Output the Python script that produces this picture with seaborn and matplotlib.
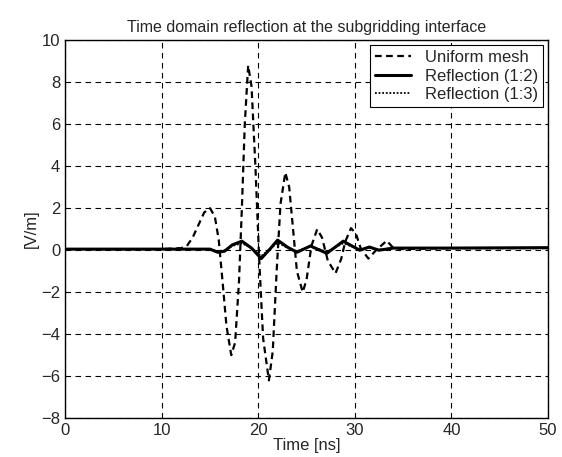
import numpy as np
import pandas as pd
import matplotlib
matplotlib.use("Agg")
import matplotlib.pyplot as plt
import seaborn as sns

sns.set_style("white")
plt.rcParams["font.family"] = ["Liberation Sans", "DejaVu Sans"]

# values
t_uniform = [0, 10, 12, 12.6, 13.2, 13.8, 14.4, 15.0, 15.5, 15.9, 16.3, 16.7, 17.2, 17.6,
             18.0, 18.3, 18.6, 18.95, 19.3, 19.7, 20.1, 20.5, 21.1, 21.5, 21.9, 22.3,
             22.8, 23.2, 23.6, 24.0, 24.6, 25.0, 25.5, 26.1, 26.6, 27.2, 28.0, 28.6,
             29.0, 29.6, 30.1, 30.6, 31.4, 32.2, 33.3, 34.0, 35, 40, 50]
v_uniform = [0.05, 0.05, 0.1, 0.2, 0.6, 1.2, 1.8, 2.0, 1.6, 0.5, -1.5, -3.6, -5.0, -4.4,
             -1.5, 2.0, 6.0, 8.8, 7.8, 4.0, -0.5, -4.2, -6.2, -4.8, -1.0, 2.2,
             3.7, 3.0, 1.0, -1.0, -2.0, -1.4, 0.2, 1.0, 0.6, -0.5, -1.1, -0.4,
             0.4, 1.05, 0.8, 0.1, -0.4, 0.0, 0.45, 0.1, 0.05, 0.1, 0.1]

t_ref12 = [0, 15.0, 15.8, 16.5, 17.3, 18.3, 19.3, 20.3, 21.2, 22.0, 23.0, 24.0, 25.4,
           27.1, 28.8, 30.5, 31.5, 32.5, 34.0, 40, 50]
v_ref12 = [0.05, 0.05, -0.1, -0.05, 0.25, 0.43, 0.1, -0.4, 0.05, 0.48, 0.15, -0.1, 0.2,
           -0.15, 0.43, 0.0, 0.15, 0.0, 0.1, 0.1, 0.12]

t_ref13 = [0, 15.0, 15.8, 16.5, 17.3, 18.3, 19.3, 20.3, 21.2, 22.0, 23.0, 24.0, 25.4,
           27.1, 28.8, 30.5, 31.5, 32.5, 34.0, 40, 50]
v_ref13 = [0.05, 0.05, -0.05, 0.0, 0.2, 0.33, 0.1, -0.28, 0.05, 0.36, 0.12, -0.05, 0.18,
           -0.08, 0.33, 0.03, 0.12, 0.03, 0.1, 0.1, 0.1]

fig, ax = plt.subplots(figsize=(5.62, 4.57), dpi=100)
fig.subplots_adjust(left=0.116, right=0.975, top=0.912, bottom=0.085)

sns.lineplot(x=t_uniform, y=v_uniform, ax=ax, color="black", linewidth=1.6,
             linestyle=(0, (3, 2)), label="Uniform mesh")
sns.lineplot(x=t_ref12, y=v_ref12, ax=ax, color="black", linewidth=2.2,
             label="Reflection (1:2)")
sns.lineplot(x=t_ref13, y=v_ref13, ax=ax, color="black", linewidth=1.3,
             linestyle=(0, (1, 1)), label="Reflection (1:3)")

ax.set_xlim(0, 50)
ax.set_ylim(-8, 10)
ax.set_xticks(range(0, 51, 10))
ax.set_yticks(range(-8, 11, 2))
ax.grid(True, color="black", linestyle=(0, (5, 4)), linewidth=0.8)
ax.tick_params(direction="in", labelsize=12, length=4)
for s in ax.spines.values():
    s.set_color("black")
    s.set_linewidth(1.0)

ax.set_title("Time domain reflection at the subgridding interface", fontsize=11.5)
ax.set_xlabel("Time [ns]", fontsize=12, labelpad=0)
ax.set_ylabel("[V/m]", fontsize=12, labelpad=2)

leg = ax.legend(loc="upper right", fontsize=12, frameon=True, fancybox=False,
                handlelength=2.2, borderpad=0.3, labelspacing=0.2, borderaxespad=0.3)
leg.get_frame().set_edgecolor("black")
leg.get_frame().set_linewidth(0.8)
leg.get_frame().set_alpha(1)

fig.savefig("out.png", dpi=100)
